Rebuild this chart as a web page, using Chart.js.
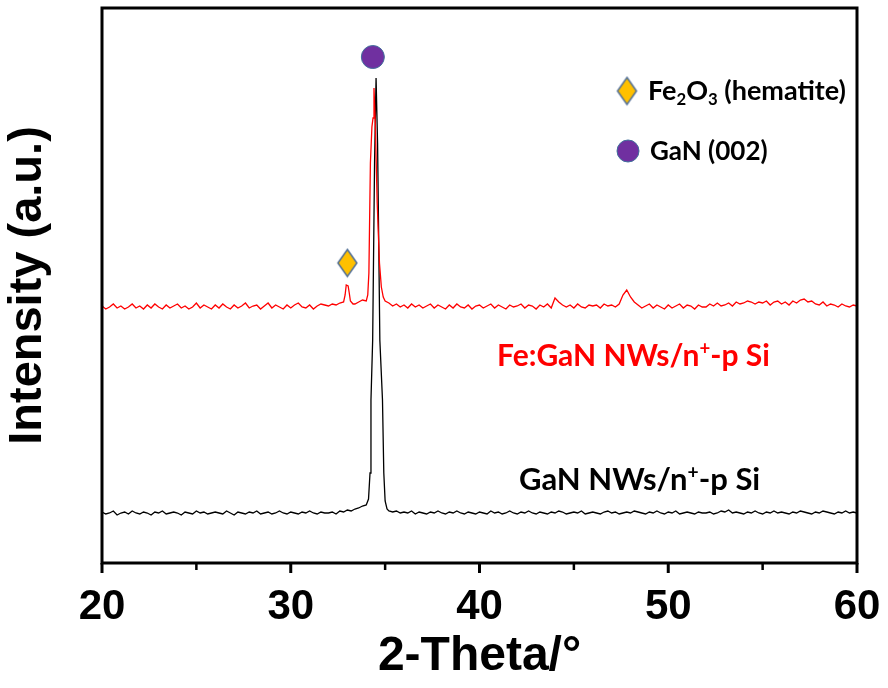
<!DOCTYPE html>
<html>
<head>
<meta charset="utf-8">
<script src="https://cdn.jsdelivr.net/npm/chart.js@4.4.1/dist/chart.umd.min.js"></script>
<style>
  html, body { margin: 0; padding: 0; background: #fff; }
  #xrd { display: block; }
</style>
</head>
<body>
<canvas id="xrd" width="888" height="688"></canvas>
<script>
// Scan grid (2-theta, degrees)
const scanStart = 20;
const scanStep = 0.2;

// Baseline intensities (a.u.), one value every 0.2 deg from 20 to 60
const ganBase = [
  51,49,50,52,48,50,51,49,52,50,
  49,51,50,48,51,50,52,49,50,51,
  50,48,51,50,49,52,50,51,49,50,
  51,50,49,52,50,48,51,50,49,51,
  50,52,49,50,51,49,50,52,50,49,
  51,50,49,51,50,52,50,49,51,50,
  50,51,49,52,51,53,52,54,55,57,
  58,90,420,300,80,56,52,51,52,50,
  51,50,52,49,51,50,49,51,50,52,
  50,49,51,50,52,50,49,51,50,49,
  51,50,49,52,50,51,49,50,52,50,
  49,51,50,52,50,49,51,50,49,51,
  50,52,51,49,50,51,50,52,49,50,
  51,50,49,51,52,50,51,49,50,51,
  50,52,51,50,49,51,50,52,50,49,
  51,50,52,49,50,51,50,49,51,50,
  50,51,49,50,52,51,53,50,51,50,
  49,51,50,52,50,49,51,50,52,50,
  51,50,49,51,50,52,51,50,49,51,
  50,52,51,50,49,51,50,52,50,51,
  50
];
const feGanBase = [
  257,254,256,259,255,257,254,256,259,255,
  257,254,258,255,259,256,254,258,255,257,
  259,255,257,254,256,260,255,258,256,254,
  258,255,259,256,254,258,255,257,260,255,
  257,258,254,257,260,255,258,256,254,258,
  255,258,260,256,255,258,254,257,259,258,
  257,259,258,260,262,270,264,259,261,263,
  265,330,440,360,280,262,260,257,259,256,
  258,255,259,256,258,255,257,259,255,258,
  256,254,258,255,259,256,255,258,254,257,
  258,255,257,259,255,258,256,254,258,256,
  257,259,255,258,257,254,258,256,259,255,
  265,261,258,256,258,255,259,256,255,258,
  257,258,255,259,257,258,256,259,268,273,
  266,261,258,255,257,259,255,258,256,254,
  258,255,257,259,255,258,257,254,258,256,
  256,259,257,260,257,258,260,257,261,259,
  260,262,261,259,261,260,262,258,261,262,
  259,261,258,262,260,263,264,261,262,259,
  258,261,257,259,258,256,259,257,256,258,
  257
];

// Peak profiles, [2-theta, intensity]
const ganPeak = [
  [34.0,58],[34.12,64],[34.2,90],[34.25,163],[34.34,223],[34.44,400],[34.52,485],
  [34.6,420],[34.72,223],[34.86,163],[34.93,90],[35.0,62],[35.1,54]
];
const feGanPeak = [
  [34.0,262],[34.08,268],[34.14,290],[34.22,400],[34.3,436],[34.36,445],[34.41,475],
  [34.48,440],[34.58,360],[34.7,300],[34.8,276],[34.9,266],[35.0,262]
];
const feGanHematite = [
  [32.8,261],[32.88,268],[32.94,278],[33.04,277],[33.1,270],[33.16,262],[33.3,259]
];

// Phase markers above the peaks
const hematiteMark = [{ x: 33.0, y: 300 }];
const ganMark = [{ x: 34.35, y: 506 }];

const xMajor = [20, 30, 40, 50, 60];
const xMinor = [25, 35, 45, 55];

const axisFont = "'Liberation Sans', Arial, sans-serif";
const labelFont = "Lato, 'Open Sans', sans-serif";

function buildSeries(base, peaks) {
  const pts = [];
  base.forEach((v, i) => {
    const x = +(scanStart + i * scanStep).toFixed(2);
    const inPeak = peaks.some(p => x >= p[0][0] && x <= p[p.length - 1][0]);
    if (!inPeak) pts.push({ x, y: v });
  });
  peaks.forEach(p => p.forEach(([x, y]) => pts.push({ x, y })));
  return pts.sort((a, b) => a.x - b.x);
}

function diamond(w, h) {
  const c = document.createElement('canvas');
  c.width = w + 4; c.height = h + 4;
  const g = c.getContext('2d');
  g.beginPath();
  g.moveTo(c.width / 2, 2);
  g.lineTo(c.width - 2, c.height / 2);
  g.lineTo(c.width / 2, c.height - 2);
  g.lineTo(2, c.height / 2);
  g.closePath();
  g.fillStyle = '#FFC000';
  g.fill();
  g.lineWidth = 1.5;
  g.strokeStyle = '#4F6D95';
  g.stroke();
  return c;
}
const diamondImg = diamond(19, 27);

function richText(ctx, x, y, parts, size, color) {
  ctx.save();
  ctx.fillStyle = color;
  ctx.textBaseline = 'alphabetic';
  ctx.textAlign = 'left';
  parts.forEach(p => {
    const s = (p.sub || p.sup) ? size * 0.62 : size;
    ctx.font = `bold ${s}px ${labelFont}`;
    const dy = p.sub ? size * 0.2 : p.sup ? -size * 0.36 : 0;
    ctx.fillText(p.t, x, y + dy);
    x += ctx.measureText(p.t).width;
  });
  ctx.restore();
}

// Frame around the plot + outward ticks on the bottom axis
const framePlugin = {
  id: 'frame',
  afterDraw(chart) {
    const { ctx, chartArea: a, scales: { x } } = chart;
    ctx.save();
    ctx.strokeStyle = '#000';
    ctx.lineWidth = 3;
    ctx.lineCap = 'square';
    ctx.beginPath();
    ctx.moveTo(a.left, a.top);
    ctx.lineTo(a.right, a.top);
    ctx.lineTo(a.right, a.bottom);
    ctx.lineTo(a.left, a.bottom);
    ctx.lineTo(a.left, a.top);
    ctx.closePath();
    ctx.stroke();
    ctx.lineCap = 'butt';
    ctx.beginPath();
    xMajor.forEach(v => {
      const px = x.getPixelForValue(v);
      ctx.moveTo(px, a.bottom);
      ctx.lineTo(px, a.bottom + 10);
    });
    ctx.stroke();
    ctx.lineWidth = 2.5;
    ctx.beginPath();
    xMinor.forEach(v => {
      const px = x.getPixelForValue(v);
      ctx.moveTo(px, a.bottom);
      ctx.lineTo(px, a.bottom + 7);
    });
    ctx.stroke();
    ctx.restore();
  }
};

// Legend and sample labels
const labelPlugin = {
  id: 'labels',
  afterDraw(chart) {
    const ctx = chart.ctx;
    ctx.drawImage(diamondImg, 627 - diamondImg.width / 2, 91 - diamondImg.height / 2);
    ctx.save();
    ctx.beginPath();
    ctx.arc(628, 151, 11, 0, Math.PI * 2);
    ctx.fillStyle = '#7030A0';
    ctx.fill();
    ctx.lineWidth = 1;
    ctx.strokeStyle = '#41719C';
    ctx.stroke();
    ctx.restore();
    richText(ctx, 648, 100, [{ t: 'Fe' }, { t: '2', sub: true }, { t: 'O' }, { t: '3', sub: true }, { t: ' (hematite)' }], 27, '#000');
    richText(ctx, 650, 160, [{ t: 'GaN (002)' }], 26, '#000');
    richText(ctx, 497, 366, [{ t: 'Fe:GaN NWs/n' }, { t: '+', sup: true }, { t: '-p Si' }], 30, '#FF0000');
    richText(ctx, 519, 490, [{ t: 'GaN NWs/n' }, { t: '+', sup: true }, { t: '-p Si' }], 31, '#000');
  }
};

new Chart(document.getElementById('xrd'), {
  type: 'scatter',
  data: {
    datasets: [
      {
        label: 'Phase markers (hematite)',
        data: hematiteMark,
        pointStyle: diamondImg,
        pointRadius: 12
      },
      {
        label: 'Phase markers (GaN)',
        data: ganMark,
        pointStyle: 'circle',
        pointRadius: 11.5,
        backgroundColor: '#7030A0',
        borderColor: '#41719C',
        borderWidth: 1
      },
      {
        label: 'Fe:GaN NWs/n+-p Si',
        data: buildSeries(feGanBase, [feGanHematite, feGanPeak]),
        showLine: true,
        borderColor: '#FF0000',
        borderWidth: 1.3,
        pointRadius: 0,
        tension: 0
      },
      {
        label: 'GaN NWs/n+-p Si',
        data: buildSeries(ganBase, [ganPeak]),
        showLine: true,
        borderColor: '#000000',
        borderWidth: 1.3,
        pointRadius: 0,
        tension: 0
      }
    ]
  },
  options: {
    responsive: false,
    animation: false,
    layout: { autoPadding: false, padding: { left: 0, right: 31, top: 8, bottom: 0 } },
    plugins: { legend: { display: false }, tooltip: { enabled: false } },
    scales: {
      x: {
        type: 'linear',
        min: 20,
        max: 60,
        afterBuildTicks: s => { s.ticks = xMajor.map(v => ({ value: v })); },
        afterFit: s => { s.height = 125; s.paddingLeft = 0; s.paddingRight = 0; },
        grid: { display: false },
        border: { display: false },
        ticks: {
          padding: 11,
          maxRotation: 0,
          color: '#000',
          font: { family: axisFont, size: 42, weight: 'bold' }
        },
        title: {
          display: true,
          text: '2-Theta/°',
          color: '#000',
          padding: { top: 0, bottom: 2 },
          font: { family: axisFont, size: 48, weight: 'bold' }
        }
      },
      y: {
        min: 0,
        max: 555,
        afterFit: s => { s.width = 102; s.paddingTop = 0; s.paddingBottom = 0; },
        grid: { display: false },
        border: { display: false },
        ticks: { display: false },
        title: {
          display: true,
          text: 'Intensity (a.u.)',
          color: '#000',
          padding: { top: 0, bottom: 4 },
          font: { family: axisFont, size: 47, weight: 'bold' }
        }
      }
    }
  },
  plugins: [framePlugin, labelPlugin]
});
</script>
</body>
</html>
